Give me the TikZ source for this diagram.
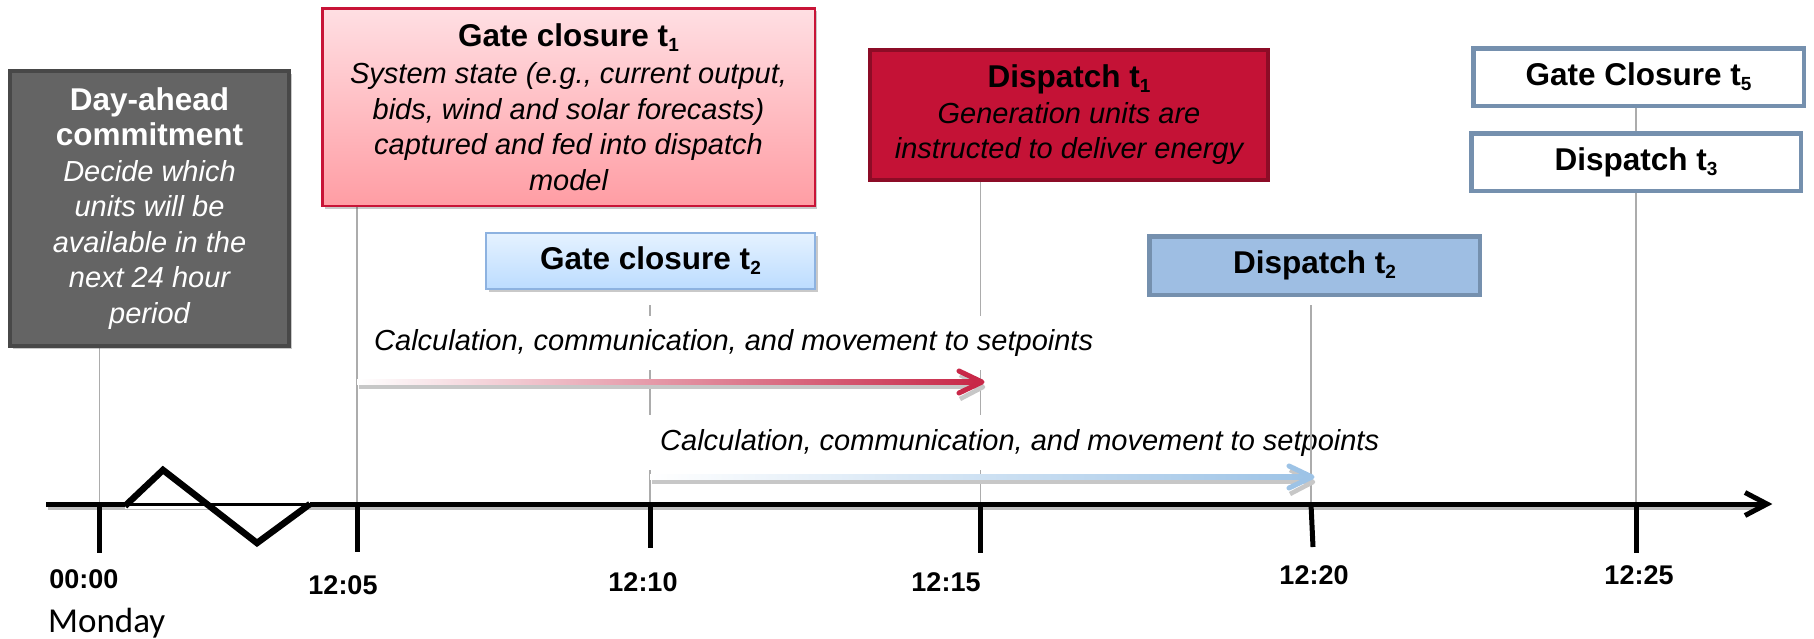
\documentclass[tikz,border=0pt]{standalone}
\usepackage{fontspec}
\setmainfont{Liberation Sans}
\newfontfamily\mondayfont{Carlito}
\usetikzlibrary{calc,shadows}

\definecolor{dagray}{RGB}{100,100,100}
\definecolor{dagrayline}{RGB}{72,72,72}
\definecolor{gatetop}{RGB}{255,223,227}
\definecolor{gatebot}{RGB}{255,157,164}
\definecolor{gateline}{RGB}{200,20,55}
\definecolor{gtwotop}{RGB}{229,242,255}
\definecolor{gtwobot}{RGB}{188,220,255}
\definecolor{gtwoline}{RGB}{141,178,224}
\definecolor{dispred}{RGB}{196,18,54}
\definecolor{dispredline}{RGB}{140,12,38}
\definecolor{dispblue}{RGB}{158,190,227}
\definecolor{slate}{RGB}{117,144,174}
\definecolor{gridgray}{RGB}{172,172,172}
\definecolor{arrred}{RGB}{200,40,72}
\definecolor{arrblue}{RGB}{157,195,230}

\pgfdeclarelayer{background}
\pgfsetlayers{background,main}

\newcommand\boxtitle{\fontsize{31.5}{35.5}\selectfont\bfseries}
\newcommand\subidx[1]{\raisebox{-5pt}{\fontsize{19}{19}\selectfont #1}}

\begin{document}
\begin{tikzpicture}[x=1pt,y=-1pt,
  every node/.style={inner sep=0pt},
  boxtxt/.style={align=center, font=\fontsize{29}{35.5}\selectfont},
  softshadow/.style={drop shadow={shadow xshift=2.5pt, shadow yshift=-3pt, opacity=0.3, fill=black!70}},
  dabox/.style={boxtxt, draw=dagrayline, line width=4, fill=dagray, text=white, softshadow},
  gateone/.style={boxtxt, draw=gateline, line width=2.5, top color=gatetop, bottom color=gatebot, softshadow},
  gatetwo/.style={boxtxt, draw=gtwoline, line width=2, top color=gtwotop, bottom color=gtwobot, softshadow},
  dispone/.style={boxtxt, draw=dispredline, line width=4, fill=dispred},
  disptwo/.style={boxtxt, draw=slate, line width=4.5, fill=dispblue},
  plainbox/.style={boxtxt, draw=slate, line width=4.5, fill=white},
  calctext/.style={font=\fontsize{29}{35}\selectfont\itshape, fill=white, inner xsep=12pt, minimum height=54},
  gridline/.style={gridgray, line width=1.2},
  tickmark/.style={black, line width=5},
  ticklabel/.style={font=\fontsize{27}{30}\selectfont\bfseries, anchor=base},
  arrshadow/.style={black!22, line width=4.5, line join=round},
]
\useasboundingbox (0,0) rectangle (1814,638);

% positions of the time marks on the axis
\coordinate (t0)  at (99.5,504);
\coordinate (t5)  at (357,504);
\coordinate (t10) at (650,504);
\coordinate (t15) at (980.5,504);
\coordinate (t20) at (1311,504);
\coordinate (t25) at (1636,504);
\coordinate (axstart) at (46,504);
\coordinate (axend) at (1767,504);

% event boxes
\node[dabox, minimum width=279, minimum height=275] (da) at (149.5,208.5)
  {{\boxtitle Day-ahead}\\{\boxtitle commitment}\\{\itshape Decide which}\\{\itshape units will be}\\{\itshape available in the}\\{\itshape next 24 hour}\\{\itshape period}};
\node[gateone, minimum width=492.5, minimum height=197.5] (gc1) at (568.5,107)
  {{\boxtitle Gate closure t\subidx{1}}\\[2pt]{\itshape System state (e.g., current output,}\\{\itshape bids, wind and solar forecasts)}\\{\itshape captured and fed into dispatch}\\{\itshape model}};
\node[gatetwo, minimum width=329, minimum height=56] (gc2) at (650.5,261)
  {\boxtitle Gate closure t\subidx{2}};
\node[dispone, minimum width=398, minimum height=130] (d1) at (1069,115)
  {{\boxtitle Dispatch t\subidx{1}}\\{\itshape Generation units are}\\{\itshape instructed to deliver energy}};
\node[disptwo, minimum width=330.5, minimum height=58.5] (d2) at (1314.5,265.5)
  {\boxtitle Dispatch t\subidx{2}};
\node[plainbox, minimum width=330.5, minimum height=57.5] (gc5) at (1638.5,77)
  {\boxtitle Gate Closure t\subidx{5}};
\node[plainbox, minimum width=329.5, minimum height=57.5] (d3) at (1636,162)
  {\boxtitle Dispatch t\subidx{3}};

% drop lines from the events to the axis
\begin{pgfonlayer}{background}
  \draw[gridline] (t0 |- da.south) -- (t0);
  \draw[gridline] (t5 |- gc1.south) -- (t5);
  \draw[gridline] ($(t10 |- gc2.south)+(0,15)$) -- (t10);
  \draw[gridline] (t15 |- d1.south) -- (t15);
  \draw[gridline] (t25 |- gc5.south) -- (t25 |- d3.north);
  \draw[gridline] (t25 |- d3.south) -- (t25);
\end{pgfonlayer}

% process labels
\node[calctext, anchor=west] (c1) at (362,343) {Calculation, communication, and movement to setpoints};
\node[calctext, anchor=west, minimum height=55] (c2) at (648,442.5) {Calculation, communication, and movement to setpoints};
\draw[gridline] ($(t20 |- d2.south)+(0,8)$) -- (t20);

% process arrows
\coordinate (a1s) at (t5 |- 0,382);
\coordinate (a1e) at ($(t15 |- 0,382)+(1.5,0)$);
\coordinate (a2s) at (t10 |- 0,477);
\coordinate (a2e) at ($(t20 |- 0,477)+(1,0)$);

\draw[arrshadow] ($(a1s)+(2,5)$) -- ($(a1e)+(-4,5)$);
\draw[arrshadow] ($(a1e)+(-22,-7)$) -- ($(a1e)+(1,5)$) -- ($(a1e)+(-22,17)$);
\shade[left color=white, middle color=arrred!38!white, right color=arrred]
  ($(a1s)+(0,-2.5)$) rectangle ($(a1e)+(-4,2.5)$);
\draw[arrred, line width=5, line join=round, line cap=round]
  ($(a1e)+(-23,-11)$) -- (a1e) -- ($(a1e)+(-23,11)$);

\draw[arrshadow] ($(a2s)+(2,5)$) -- ($(a2e)+(-4,5)$);
\draw[arrshadow] ($(a2e)+(-22,-7)$) -- ($(a2e)+(1,5)$) -- ($(a2e)+(-22,17)$);
\shade[left color=white, middle color=arrblue!45!white, right color=arrblue]
  ($(a2s)+(0,-2.5)$) rectangle ($(a2e)+(-4,2.5)$);
\draw[arrblue, line width=5, line join=round, line cap=round]
  ($(a2e)+(-23,-11)$) -- (a2e) -- ($(a2e)+(-23,11)$);

% time axis
\draw[black!25, line width=3] ($(axstart)+(2,4)$) -- ($(axend)+(-8,4)$);
\draw[black, line width=5] (axstart) -- ($(axend)+(-3,0)$);
\draw[black, line width=5, line join=miter] ($(axend)+(-22,-11.5)$) -- (axend) -- ($(axend)+(-22,11.5)$);

% axis break
\fill[white] (125,504) -- (163,470) -- (257,543) -- (310,504) -- cycle;
\fill[white] (125,500) rectangle (310,508.5);
\draw[black, line width=2.5] (125,504.5) -- (310,504.5);
\draw[black, line width=6.5, line join=miter] (125,506) -- (163,470) -- (257,543) -- (310,504);

% ticks
\draw[tickmark] (t0)  -- ++(0,49);
\draw[tickmark] (t5)  -- ++(0,48);
\draw[tickmark] (t10) -- ++(0,44);
\draw[tickmark] (t15) -- ++(0,49);
\draw[tickmark] (t20) -- ++(2,43);
\draw[tickmark] (t25) -- ++(0,49);

% tick labels
\node[ticklabel] (l0)  at (84,588)    {00:00};
\node[ticklabel] (l5)  at (343,594)   {12:05};
\node[ticklabel] (l10) at (643,591.5) {12:10};
\node[ticklabel] (l15) at (946,591.5) {12:15};
\node[ticklabel] (l20) at (1314,584)  {12:20};
\node[ticklabel] (l25) at (1639,584)  {12:25};
\node[anchor=base west, font=\mondayfont\fontsize{35}{40}\selectfont] (day) at (48,632) {Monday};
\end{tikzpicture}
\end{document}
